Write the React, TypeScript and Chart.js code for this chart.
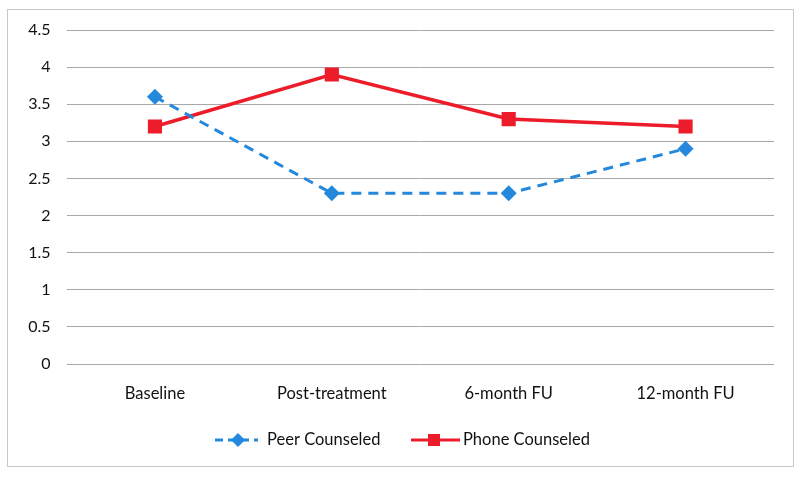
import React, { useEffect, useRef } from "react";
import { Chart, registerables } from "chart.js";

Chart.register(...registerables);

const categories = ["Baseline", "Post-treatment", "6-month FU", "12-month FU"];
const peerCounseled = [3.6, 2.3, 2.3, 2.9];
const phoneCounseled = [3.2, 3.9, 3.3, 3.2];
const seriesNames = ["Peer Counseled", "Phone Counseled"];

const BLUE = "#2489dc";
const RED = "#ec1c2a";
const FONT = "Lato, 'Open Sans', sans-serif";
const TEXT = "#111111";

const framePlugin = {
  id: "frameAndLegend",
  afterDraw(chart: any) {
    const ctx = chart.ctx as CanvasRenderingContext2D;
    ctx.save();
    ctx.strokeStyle = "#c8c8c8";
    ctx.lineWidth = 1;
    ctx.strokeRect(7.5, 9.5, 786, 457);

    // custom legend
    const y = 440;
    const items = [
      { ds: chart.data.datasets[0], x0: 215, x1: 258, mx: 238, tx: 267 },
      { ds: chart.data.datasets[1], x0: 411, x1: 460, mx: 434, tx: 463 },
    ];
    for (const it of items) {
      const ds = it.ds;
      ctx.strokeStyle = ds.borderColor;
      ctx.lineWidth = 3;
      ctx.setLineDash(ds.borderDash ? [8, 5] : []);
      ctx.beginPath();
      ctx.moveTo(it.x0, y);
      ctx.lineTo(it.x1, y);
      ctx.stroke();
      ctx.setLineDash([]);
      ctx.fillStyle = ds.borderColor;
      ctx.beginPath();
      if (ds.pointStyle === "rectRot") {
        const r = 7;
        ctx.moveTo(it.mx, y - r);
        ctx.lineTo(it.mx + r, y);
        ctx.lineTo(it.mx, y + r);
        ctx.lineTo(it.mx - r, y);
        ctx.closePath();
      } else {
        ctx.rect(it.mx - 6, y - 6, 12, 12);
      }
      ctx.fill();
      ctx.fillStyle = TEXT;
      ctx.font = `16.5px ${FONT}`;
      ctx.textBaseline = "middle";
      ctx.textAlign = "left";
      ctx.fillText(ds.label, it.tx, y);
    }
    ctx.restore();
  },
};

export default function App() {
  const ref = useRef<HTMLCanvasElement>(null);
  useEffect(() => {
    if (!ref.current) return;
    const chart = new Chart(ref.current, {
      type: "line",
      data: {
        labels: categories,
        datasets: [
          {
            label: seriesNames[0],
            data: peerCounseled,
            borderColor: BLUE,
            backgroundColor: BLUE,
            borderWidth: 3,
            borderDash: [10, 7],
            pointStyle: "rectRot",
            pointRadius: 8,
            pointBorderWidth: 0,
            tension: 0,
          },
          {
            label: seriesNames[1],
            data: phoneCounseled,
            borderColor: RED,
            backgroundColor: RED,
            borderWidth: 3.5,
            pointStyle: "rect",
            pointRadius: 10,
            pointBorderWidth: 0,
            tension: 0,
          },
        ],
      },
      options: {
        animation: false,
        responsive: false,
        layout: { padding: { left: 0, right: 26, top: 30, bottom: 0 } },
        plugins: { legend: { display: false }, tooltip: { enabled: false } },
        scales: {
          x: {
            offset: true,
            grid: { display: false, drawTicks: false },
            border: { display: false },
            ticks: { color: TEXT, font: { family: FONT, size: 16.5 }, padding: 20 },
            afterFit(scale: any) {
              scale.height = 113;
            },
          },
          y: {
            min: 0,
            max: 4.5,
            grid: { color: "#a8a8a8", lineWidth: 1, drawTicks: false },
            border: { display: false },
            ticks: {
              stepSize: 0.5,
              color: TEXT,
              font: { family: FONT, size: 16 },
              padding: 16,
              callback: (v: any) => String(Number(v)),
            },
            afterFit(scale: any) {
              scale.width = 66.5;
            },
          },
        },
      },
      plugins: [framePlugin],
    });
    return () => chart.destroy();
  }, []);
  return (
    <div style={{ position: "absolute", left: 0, top: 0, width: 800, height: 477, background: "#fff" }}>
      <canvas ref={ref} width={800} height={477} style={{ display: "block" }} />
    </div>
  );
}
